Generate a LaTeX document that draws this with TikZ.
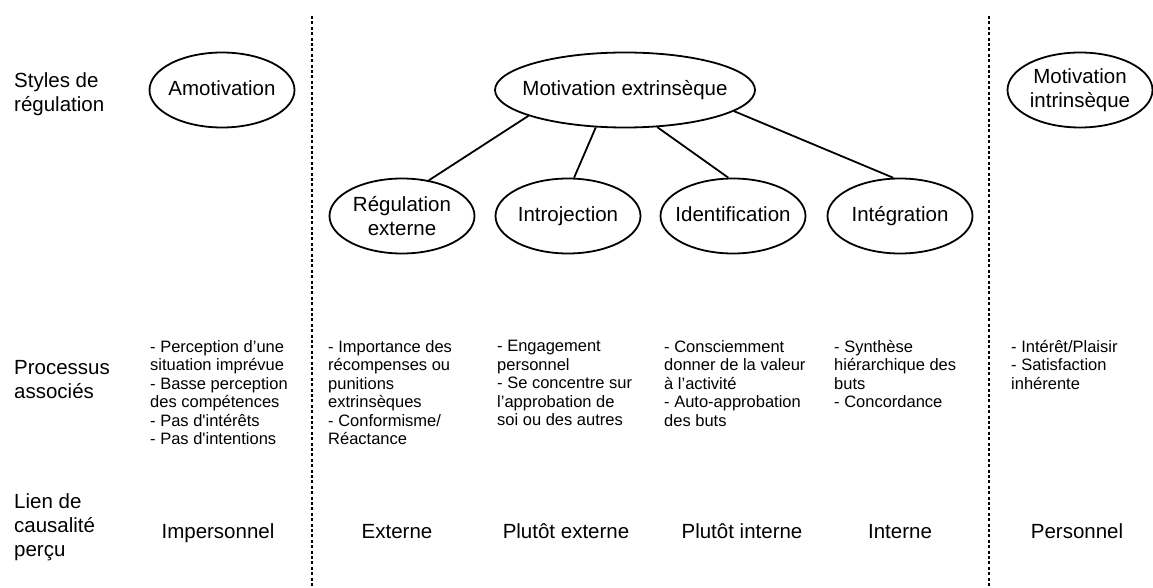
\documentclass[tikz,border=0pt]{standalone}
\usepackage{fontspec}
\setmainfont{Liberation Sans}[Ligatures=TeXOff]
\usetikzlibrary{shapes.geometric}
\begin{document}
\begin{tikzpicture}[x=1pt,y=-1pt,
  ell/.style={draw, ellipse, line width=1.8pt, inner xsep=-15pt, inner ysep=0pt,
    minimum width=145pt, minimum height=75pt,
    font=\fontsize{20.5}{24}\selectfont, align=center},
  oneline/.style={text height=15pt, text depth=4.5pt},
  big/.style={font=\fontsize{20.5}{24}\selectfont, align=left, anchor=north west, inner sep=0pt},
  small/.style={font=\fontsize{16.5}{18.5}\selectfont, align=left, anchor=north west, inner sep=0pt},
  cause/.style={font=\fontsize{20.5}{24}\selectfont, anchor=base, inner sep=0pt},
  link/.style={line width=1.8pt},
  sep/.style={line width=2pt, dash pattern=on 3pt off 2.4pt}
]
\useasboundingbox (0,0) rectangle (1153,588);

% separators
\coordinate (s1a) at (312,16);
\coordinate (s1b) at (312,588);
\coordinate (s2a) at (989,16);
\coordinate (s2b) at (989,588);
\draw[sep] (s1a) -- (s1b);
\draw[sep] (s2a) -- (s2b);

% row labels
\node[big] (l1) at (14,72) {Styles de\\régulation};
\node[big] (l2) at (14,360) {Processus\\associés};
\node[big] (l3) at (14,493) {Lien de\\causalité\\perçu};

% ellipses
\node[ell, oneline] (amot) at (222,90) {Amotivation};
\node[ell, oneline, minimum width=260pt] (me) at (625,90) {Motivation extrinsèque};
\node[ell] (mi) at (1080,90) {Motivation\\intrinsèque};
\node[ell] (re) at (402,216) {Régulation\\externe};
\node[ell, oneline] (intro) at (568,216) {Introjection};
\node[ell, oneline] (ident) at (733,216) {Identification};
\node[ell, oneline] (integ) at (900,216) {Intégration};

% connectors
\draw[link] (me.195) -- (re.53);
\draw[link] (me.232) -- (intro.81);
\draw[link] (me.311) -- (ident.97);
\draw[link] (me.349) -- (integ.100);

% processes
\node[small] (p1) at (150,340) {- Perception d’une\\situation imprévue\\- Basse perception\\des compétences\\- Pas d'intérêts\\- Pas d'intentions};
\node[small] (p2) at (328,340) {- Importance des\\récompenses ou\\punitions\\extrinsèques\\- Conformisme/\\Réactance};
\node[small] (p3) at (497,340) {- Engagement\\personnel\\- Se concentre sur\\l’approbation de\\soi ou des autres};
\node[small] (p4) at (664,340) {- Consciemment\\donner de la valeur\\à l’activité\\- Auto-approbation\\des buts};
\node[small] (p5) at (834,340) {- Synthèse\\hiérarchique des\\buts\\- Concordance};
\node[small] (p6) at (1011,340) {- Intérêt/Plaisir\\- Satisfaction\\inhérente};

% causality
\node[cause] (c1) at (218,538) {Impersonnel};
\node[cause] (c2) at (397,538) {Externe};
\node[cause] (c3) at (566,538) {Plutôt externe};
\node[cause] (c4) at (742,538) {Plutôt interne};
\node[cause] (c5) at (900,538) {Interne};
\node[cause] (c6) at (1077,538) {Personnel};
\end{tikzpicture}
\end{document}
